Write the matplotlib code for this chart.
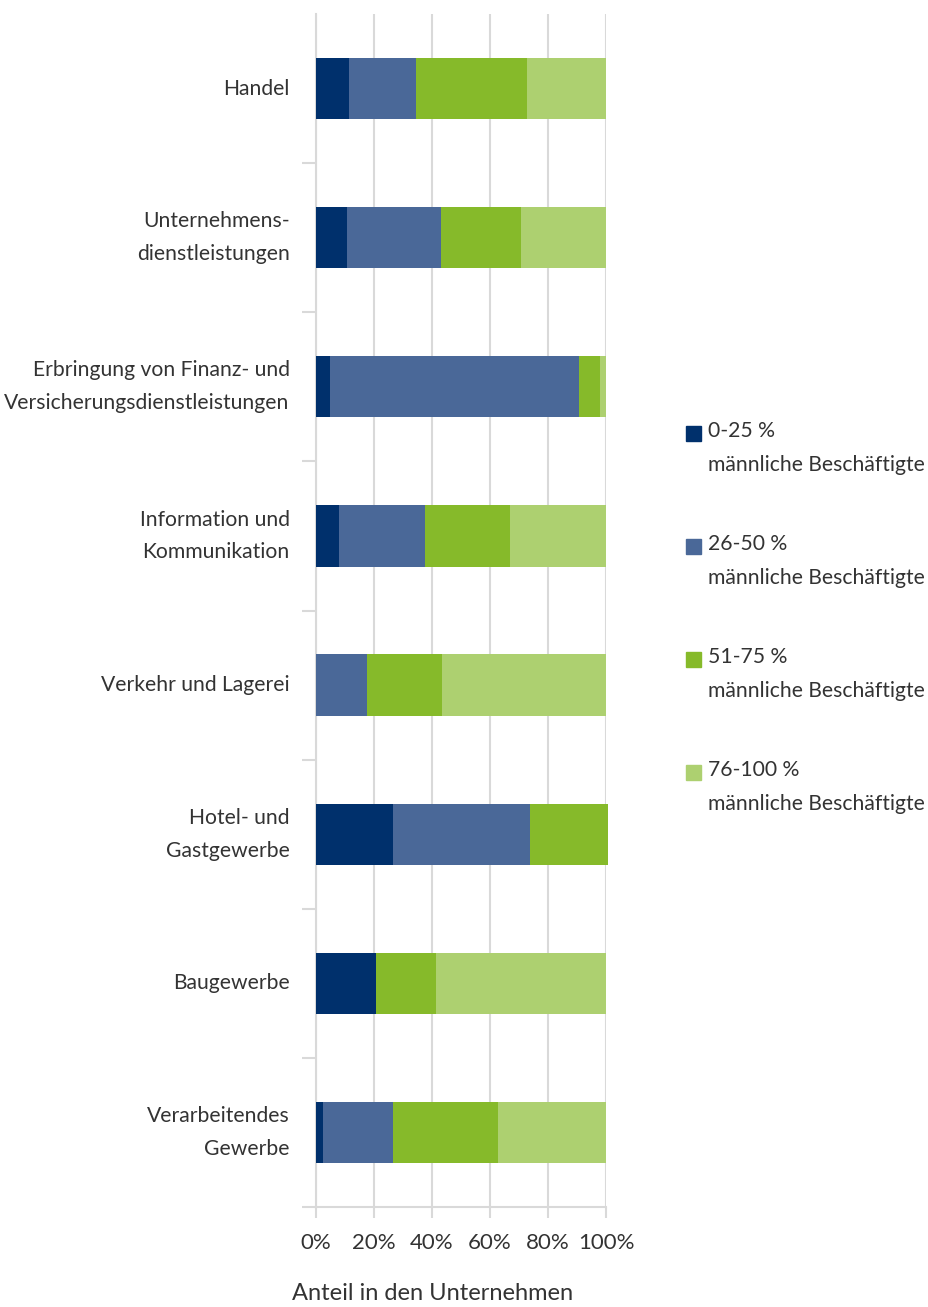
import matplotlib
matplotlib.use('Agg')
import matplotlib.pyplot as plt
from matplotlib.patches import Rectangle
import numpy as np

plt.rcParams['font.family'] = ['Lato', 'DejaVu Sans']

categories = ['Handel',
              'Unternehmens-\ndienstleistungen',
              'Erbringung von Finanz- und\nVersicherungsdienstleistungen',
              'Information und\nKommunikation',
              'Verkehr und Lagerei',
              'Hotel- und\nGastgewerbe',
              'Baugewerbe',
              'Verarbeitendes\nGewerbe']

# share of companies (%) per group of male employees
m0_25 = [11.4, 10.7, 4.8, 7.9, 0.0, 26.6, 20.7, 2.4]
m26_50 = [23.1, 32.4, 85.9, 29.7, 17.6, 47.2, 0.0, 24.2]
m51_75 = [38.3, 27.6, 7.2, 29.3, 25.8, 26.9, 20.7, 36.2]
m76_100 = [27.2, 29.3, 2.1, 33.1, 56.6, 0.0, 58.6, 37.2]

series_labels = ['0-25 %', '26-50 %', '51-75 %', '76-100 %']
colors = ['#00306c', '#4a6898', '#86ba2a', '#add070']
xticks = [0, 20, 40, 60, 80, 100]

txt = '#333333'
gridc = '#d9d9d9'
fs = 15.2

fig = plt.figure(figsize=(9.29, 13.07), dpi=100)
ax = fig.add_axes([316/929, 1 - 1207/1307, 290/929, 1193/1307])

y = np.arange(len(categories))
left = np.zeros(len(categories))
for vals, c in zip([m0_25, m26_50, m51_75, m76_100], colors):
    ax.barh(y, vals, left=left, height=0.41, color=c, zorder=3, clip_on=False)
    left += np.array(vals)

ax.set_xlim(0, 100)
ax.set_ylim(len(categories) - 0.5, -0.5)

ax.set_xticks(xticks)
ax.set_xticklabels([f'{t}%' for t in xticks])
ax.xaxis.grid(True, color=gridc, linewidth=1.5, zorder=0)
ax.tick_params(axis='x', length=8, width=1.5, color=gridc, labelsize=fs + 0.8,
               labelcolor=txt, pad=11)

ax.set_yticks(y)
ax.set_yticklabels(categories, linespacing=1.8, va='center')
ax.set_yticks(np.arange(len(categories)) + 0.5, minor=True)
ax.tick_params(axis='y', which='major', length=0, labelsize=fs, labelcolor=txt, pad=19)
ax.tick_params(axis='y', which='minor', length=10, width=1.5, color=gridc)

for s in ['top', 'right']:
    ax.spines[s].set_visible(False)
for s in ['left', 'bottom']:
    ax.spines[s].set_color(gridc)
    ax.spines[s].set_linewidth(1.5)

fig.text(433/929, 1 - 1293/1307, 'Anteil in den Unternehmen', ha='center', va='center',
         fontsize=17, color=txt)

# legend, square marker next to the first text line
for i, (lab, c) in enumerate(zip(series_labels, colors)):
    ytop = 421 + i * 113
    fig.patches.append(Rectangle((686/929, 1 - (ytop + 20)/1307), 15/929, 15/1307,
                                 transform=fig.transFigure, color=c))
    fig.text(708/929, 1 - ytop/1307, lab + '\nmännliche Beschäftigte', ha='left',
             va='top', fontsize=fs, color=txt, linespacing=1.9,
             transform=fig.transFigure)

fig.savefig('out.png', dpi=100)
